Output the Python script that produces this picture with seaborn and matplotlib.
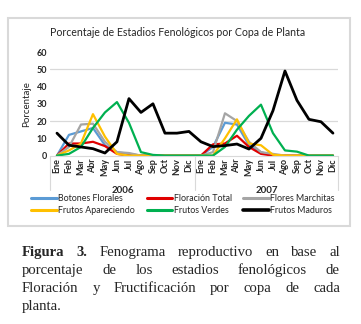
import numpy as np
import pandas as pd
import matplotlib
matplotlib.use('Agg')
import matplotlib.pyplot as plt
from matplotlib.lines import Line2D
from matplotlib.patches import Rectangle
import seaborn as sns

# meses y años
meses = ['Ene', 'Feb', 'Mar', 'Abr', 'May', 'Jun', 'Jul', 'Ago', 'Sep', 'Oct', 'Nov', 'Dic']
anios = ['2006', '2007']

# porcentaje por estadio (Ene 2006 ... Dic 2007)
botones_florales = [0, 12, 14, 16, 6, 2, 1, 0, 0, 0, 0, 0,
                    0, 5, 19, 18, 6, 2, 0, 0, 0, 0, 0, 0]
floracion_total = [0, 7, 7, 8, 5.5, 1, 0, 0, 0, 0, 0, 0,
                   0, 6.5, 7, 11.5, 5, 1, 0, 0, 0, 0, 0, 0]
flores_marchitas = [0, 5, 18, 18.5, 8, 2, 1.5, 0, 0, 0, 0, 0,
                    0, 2, 24.5, 20, 8, 2, 1, 0, 0, 0, 0, 0]
frutos_apareciendo = [0, 3, 7, 24, 11, 1, 0, 0, 0, 0, 0, 0,
                      0, 0, 10, 21, 7, 6, 0.5, 0, 0, 0, 0, 0]
frutos_verdes = [0, 1, 5, 16, 25, 31, 19, 2, 0.4, 0, 0, 0,
                 0, 0, 5, 15, 23, 29.5, 13, 3, 2.3, 0, 0, 0]
frutos_maduros = [13, 6, 5, 4, 1.5, 8, 33, 25, 30, 13, 13, 14,
                  8, 5.2, 5.8, 6.7, 3.8, 10, 26, 49, 32, 21, 19.6, 13]

series = {
    'Botones Florales': botones_florales,
    'Floración Total': floracion_total,
    'Flores Marchitas': flores_marchitas,
    'Frutos Apareciendo': frutos_apareciendo,
    'Frutos Verdes': frutos_verdes,
    'Frutos Maduros': frutos_maduros,
}
colores = {
    'Botones Florales': '#5B9BD5',
    'Floración Total': '#E00000',
    'Flores Marchitas': '#A5A5A5',
    'Frutos Apareciendo': '#FFC000',
    'Frutos Verdes': '#00B050',
    'Frutos Maduros': '#000000',
}
grosores = {k: 1.6 for k in series}
grosores['Frutos Maduros'] = 2.0

n = len(meses) * len(anios)
df = pd.concat([pd.DataFrame({'idx': np.arange(n), 'valor': v, 'estadio': k})
                for k, v in series.items()], ignore_index=True)

sns.set_style('white')
plt.rcParams['font.family'] = ['Lato', 'DejaVu Sans']

W, H = 361, 324
fig = plt.figure(figsize=(W / 100, H / 100), dpi=100)
ax = fig.add_axes([50 / W, 1 - 155.6 / H, 288 / W, 103.6 / H])

sns.lineplot(data=df, x='idx', y='valor', hue='estadio', size='estadio',
             palette=colores, sizes=grosores, ax=ax, legend=False)

ax.set_xlim(-0.58, 23.42)
ax.set_ylim(0, 60)
ax.set_yticks(range(0, 61, 10))
ax.set_yticklabels([str(v) for v in range(0, 61, 10)], fontsize=6.5, fontweight='bold')
for g in (20, 50):
    ax.axhline(g, color='#D9D9D9', lw=0.9, zorder=0)
ax.set_xticks(range(n))
ax.set_xticklabels(meses * 2, rotation=90, fontsize=6.5, fontweight='bold')
ax.tick_params(axis='both', length=0, pad=2)
ax.set_xlabel('')
ax.set_ylabel('Porcentaje', fontsize=7, labelpad=4)
for s in ('left', 'top', 'right'):
    ax.spines[s].set_visible(False)
ax.spines['bottom'].set_color('#D9D9D9')

# separadores de años y etiquetas
for xv in (-0.58, 11.5, 23.42):
    ax.add_line(Line2D([xv, xv], [0, -0.33], transform=ax.get_xaxis_transform(),
                       color='#D9D9D9', lw=0.8, clip_on=False))
for i, a in enumerate(anios):
    fig.text((57 + 12 * (5.5 + 12 * i)) / W, 1 - 190 / H, a, ha='center', va='center',
             fontsize=7, fontweight='bold')

fig.text(178 / W, 1 - 33 / H, 'Porcentaje de Estadios Fenológicos por Copa de Planta',
         ha='center', va='center', fontsize=7.6)

# leyenda en filas: el orden se da por columnas
nombres = list(series.keys())
orden = [nombres[i] for i in (0, 3, 1, 4, 2, 5)]
handles = [Line2D([], [], color=colores[k], lw=grosores[k] + 0.6) for k in orden]
fig.legend(handles, orden, ncol=3, loc='center',
           bbox_to_anchor=(183 / W, 1 - 204.5 / H), frameon=False, fontsize=6.4,
           handlelength=2.9, handletextpad=0.15, columnspacing=1.3, labelspacing=0.3)

fig.patches.append(Rectangle((8 / W, 1 - 226 / H), 342 / W, 208 / H, transform=fig.transFigure,
                             fill=False, edgecolor='#D9D9D9', lw=1.5))

# pie de figura justificado
lineas = [
    [('Figura', True), ('3.', True), ('Fenograma', False), ('reproductivo', False),
     ('en', False), ('base', False), ('al', False)],
    [('porcentaje', False), ('de', False), ('los', False), ('estadios', False),
     ('fenológicos', False), ('de', False)],
    [('Floración', False), ('y', False), ('Fructificación', False), ('por', False),
     ('copa', False), ('de', False), ('cada', False)],
    [('planta.', False)],
]
ys = [252.5, 270.5, 288.5, 306.5]
x0, x1 = 22, 340
renderer = fig.canvas.get_renderer()
for palabras, y in zip(lineas, ys):
    textos = [fig.text(0, 1 - y / H, p, fontsize=10.6, family='Liberation Serif',
                       fontweight='bold' if b else 'normal', va='center')
              for p, b in palabras]
    anchos = [t.get_window_extent(renderer).width for t in textos]
    if len(textos) > 1:
        hueco = (x1 - x0 - sum(anchos)) / (len(textos) - 1)
    else:
        hueco = 0
    x = x0
    for t, w in zip(textos, anchos):
        t.set_x(x / W)
        x += w + hueco

fig.savefig('out.png', dpi=100)
